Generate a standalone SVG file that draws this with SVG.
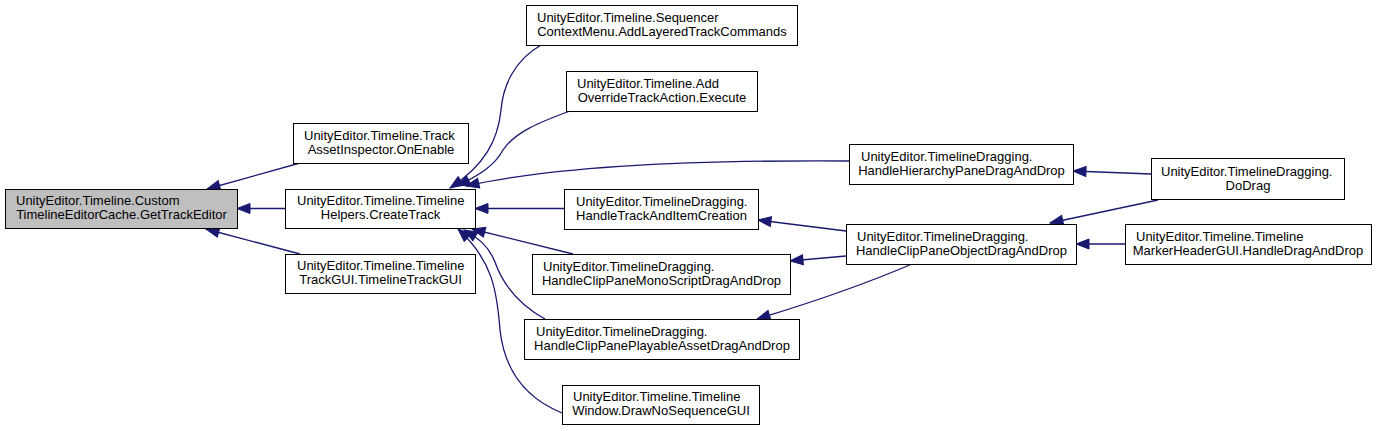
<svg xmlns="http://www.w3.org/2000/svg" width="1376" height="431" viewBox="0 0 1376 431">
<defs>
<style>
.node rect{fill:#ffffff;stroke:#000000;stroke-width:1}
.node.hl rect{fill:#bfbfbf}
.node text{font-family:"Liberation Sans",Arial,sans-serif;font-size:13px;fill:#000000}
.node text.l2{text-anchor:middle}
.edge{fill:none;stroke:#191970;stroke-width:1.3;marker-end:url(#ah)}
</style>
<marker id="ah" markerUnits="userSpaceOnUse" markerWidth="16" markerHeight="14" viewBox="-1 -1 16 14" refX="13" refY="5" orient="auto">
<polygon points="0,0 13,5 0,10" fill="#191970" stroke="#191970" stroke-width="1"/>
</marker>
</defs>
<rect x="0" y="0" width="1376" height="431" fill="#ffffff"/>
<g id="connectors">
<path class="edge" d="M300,163 L207,189"/>
<path class="edge" d="M285,208.5 L237,208.5"/>
<path class="edge" d="M300,254 L206,229"/>
<path class="edge" d="M541,45 C515,60 503,85 501,110 C498,140 485,165 450,188"/>
<path class="edge" d="M570,111 C540,122 515,132 503,150 C495,165 480,175 457,186"/>
<path class="edge" d="M849,161 C700,160 560,165 466,186"/>
<path class="edge" d="M564,208.5 L475,208.5"/>
<path class="edge" d="M573,254 L472,229"/>
<path class="edge" d="M545,319 C520,305 503,285 495,262 C488,245 478,238 464,230"/>
<path class="edge" d="M562,413 C530,400 505,375 500,330 C497,290 492,260 458,229"/>
<path class="edge" d="M846,231 L758,220"/>
<path class="edge" d="M846,256 L790,261"/>
<path class="edge" d="M912,264 C870,282 820,300 757,319"/>
<path class="edge" d="M1151,174 L1073,171"/>
<path class="edge" d="M1158,200 L1050,223"/>
<path class="edge" d="M1125,244 L1076,244"/>
</g>
<g id="n0" class="node hl"><rect x="5.5" y="189.5" width="232" height="39"/><text x="16" y="205">UnityEditor.Timeline.Custom</text><text class="l2" x="121.5" y="219">TimelineEditorCache.GetTrackEditor</text></g>
<g id="n1" class="node"><rect x="293.5" y="123.5" width="175" height="40"/><text x="304" y="139.5">UnityEditor.Timeline.Track</text><text class="l2" x="381" y="153.5">AssetInspector.OnEnable</text></g>
<g id="n2" class="node"><rect x="285.5" y="189.5" width="190" height="39"/><text x="297" y="205">UnityEditor.Timeline.Timeline</text><text class="l2" x="380.5" y="219">Helpers.CreateTrack</text></g>
<g id="n3" class="node"><rect x="285.5" y="254.5" width="190" height="39"/><text x="297" y="270">UnityEditor.Timeline.Timeline</text><text class="l2" x="380.5" y="284">TrackGUI.TimelineTrackGUI</text></g>
<g id="n4" class="node"><rect x="526.5" y="5.5" width="271" height="40"/><text x="537" y="21.5">UnityEditor.Timeline.Sequencer</text><text class="l2" x="662" y="35.5">ContextMenu.AddLayeredTrackCommands</text></g>
<g id="n5" class="node"><rect x="566.5" y="71.5" width="191" height="40"/><text x="577" y="87.5">UnityEditor.Timeline.Add</text><text class="l2" x="662" y="101.5">OverrideTrackAction.Execute</text></g>
<g id="n6" class="node"><rect x="849.5" y="144.5" width="224" height="40"/><text x="861" y="160.5">UnityEditor.TimelineDragging.</text><text class="l2" x="961.5" y="174.5">HandleHierarchyPaneDragAndDrop</text></g>
<g id="n7" class="node"><rect x="564.5" y="189.5" width="194" height="40"/><text x="576" y="205.5">UnityEditor.TimelineDragging.</text><text class="l2" x="661.5" y="219.5">HandleTrackAndItemCreation</text></g>
<g id="n8" class="node"><rect x="532.5" y="254.5" width="258" height="40"/><text x="543" y="270.5">UnityEditor.TimelineDragging.</text><text class="l2" x="661.5" y="284.5">HandleClipPaneMonoScriptDragAndDrop</text></g>
<g id="n9" class="node"><rect x="524.5" y="319.5" width="275" height="40"/><text x="536" y="335.5">UnityEditor.TimelineDragging.</text><text class="l2" x="662" y="349.5">HandleClipPanePlayableAssetDragAndDrop</text></g>
<g id="n10" class="node"><rect x="562.5" y="385.5" width="197" height="39"/><text x="573" y="401">UnityEditor.Timeline.Timeline</text><text class="l2" x="661" y="415">Window.DrawNoSequenceGUI</text></g>
<g id="n11" class="node"><rect x="846.5" y="224.5" width="230" height="40"/><text x="857" y="240.5">UnityEditor.TimelineDragging.</text><text class="l2" x="961.5" y="254.5">HandleClipPaneObjectDragAndDrop</text></g>
<g id="n12" class="node"><rect x="1151.5" y="158.5" width="193" height="41"/><text x="1161" y="175.5">UnityEditor.TimelineDragging.</text><text class="l2" x="1248" y="189.5">DoDrag</text></g>
<g id="n13" class="node"><rect x="1125.5" y="224.5" width="246" height="40"/><text x="1136" y="240.5">UnityEditor.Timeline.Timeline</text><text class="l2" x="1248" y="254.5">MarkerHeaderGUI.HandleDragAndDrop</text></g>
</svg>
